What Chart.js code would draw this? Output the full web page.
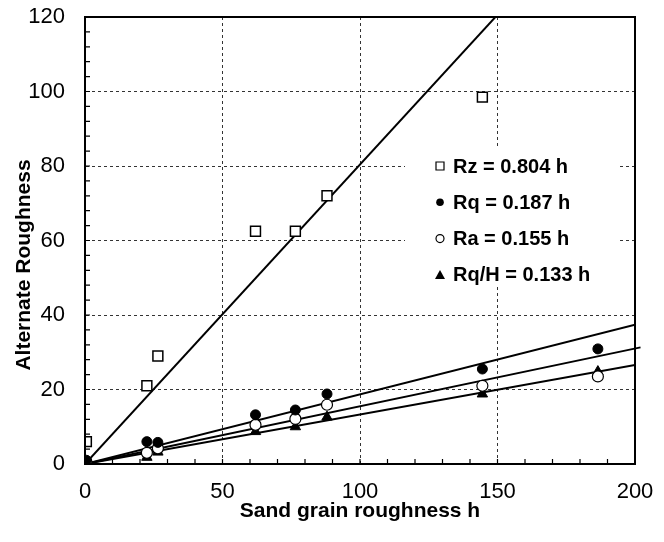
<!DOCTYPE html>
<html>
<head>
<meta charset="utf-8">
<script src="https://cdn.jsdelivr.net/npm/chart.js@4/dist/chart.umd.min.js"></script>
<style>
  html, body { margin: 0; padding: 0; background: #fff; }
</style>
</head>
<body>
<canvas id="chart" width="664" height="542"></canvas>
<script>
// data
const sandH = [0.5, 22.5, 26.5, 62, 76.5, 88, 144.5, 186.5];
const rzVals = [6, 21, 29, 62.5, 62.5, 72, 98.5, null];
const rqVals = [1, 6, 5.8, 13.2, 14.5, 18.8, 25.5, 30.9];
const raVals = [0.6, 3, 4.2, 10.5, 12.1, 15.9, 21, 23.5];
const rqhVals = [0.3, 1.8, 3.2, 8.7, 10, 12.6, 18.8, 24.8];

const seriesNames = ["Rz", "Rq", "Ra", "Rq/H"];
const slopes = [0.804, 0.187, 0.155, 0.133];
const lineEnds = [200, 200, 202, 200];

const xTicks = [0, 50, 100, 150, 200];
const yTicks = [0, 20, 40, 60, 80, 100, 120];

const FONT = "'Liberation Sans', Arial, sans-serif";

const pts = vals => sandH.map((h, i) => ({ x: h, y: vals[i] })).filter(p => p.y !== null);

const markerStyles = [
    { pointStyle: "rect", pointRadius: 7, backgroundColor: "#fff", borderColor: "#000", borderWidth: 1.5 },
    { pointStyle: "circle", pointRadius: 5, backgroundColor: "#000", borderColor: "#000", borderWidth: 1 },
    { pointStyle: "circle", pointRadius: 5.5, backgroundColor: "#fff", borderColor: "#000", borderWidth: 1.2 },
    { pointStyle: "triangle", pointRadius: 6, backgroundColor: "#000", borderColor: "#000", borderWidth: 1 }
];

const allVals = [rzVals, rqVals, raVals, rqhVals];

const datasets = [];
allVals.forEach((vals, i) => {
    datasets.push(Object.assign({
        label: seriesNames[i] + " = " + slopes[i].toFixed(3) + " h",
        data: pts(vals),
        order: 1
    }, markerStyles[i]));
});
// fitted lines through the origin
slopes.forEach((s, i) => {
    datasets.push({
        label: "fit " + seriesNames[i],
        data: [{ x: 0, y: 0 }, { x: lineEnds[i], y: s * lineEnds[i] }],
        showLine: true,
        pointRadius: 0,
        borderColor: "#000",
        borderWidth: 2,
        clip: lineEnds[i] > 200 ? false : undefined,
        order: 2
    });
});

// frame, minor ticks, axis titles and the in-plot legend
const extras = {
    id: "extras",
    afterDraw(chart) {
        const { ctx, chartArea: a, scales: { x, y } } = chart;
        ctx.save();
        ctx.strokeStyle = "#000";
        ctx.lineWidth = 2;
        ctx.strokeRect(a.left, a.top, a.right - a.left, a.bottom - a.top);

        ctx.lineWidth = 1.2;
        ctx.beginPath();
        for (let v = 10; v < 200; v += 10) {
            const px = x.getPixelForValue(v);
            ctx.moveTo(px, a.bottom);
            ctx.lineTo(px, a.bottom - 5);
        }
        for (let v = 4; v < 120; v += 4) {
            const py = y.getPixelForValue(v);
            ctx.moveTo(a.left, py);
            ctx.lineTo(a.left + 5, py);
        }
        ctx.stroke();

        ctx.fillStyle = "#000";
        ctx.font = "bold 21px " + FONT;
        ctx.textAlign = "center";
        ctx.textBaseline = "middle";
        ctx.fillText("Sand grain roughness h", (a.left + a.right) / 2, 511);
        ctx.save();
        ctx.translate(24, 265);
        ctx.rotate(-Math.PI / 2);
        ctx.fillText("Alternate Roughness", 0, 0);
        ctx.restore();

        // legend (white box hides the grid behind it)
        const lx = a.left + 355;
        ctx.fillStyle = "#fff";
        ctx.fillRect(lx - 35, a.top + 130, 212, 140);
        ctx.font = "bold 20px " + FONT;
        ctx.textAlign = "left";
        for (let i = 0; i < 4; i++) {
            const ly = a.top + 149 + i * 36.3;
            ctx.lineWidth = 1.2;
            ctx.beginPath();
            if (i === 0) {
                ctx.fillStyle = "#fff";
                ctx.rect(lx - 4, ly - 4, 8, 8);
                ctx.fill(); ctx.stroke();
            } else if (i === 1) {
                ctx.fillStyle = "#000";
                ctx.arc(lx, ly, 3.8, 0, Math.PI * 2);
                ctx.fill();
            } else if (i === 2) {
                ctx.fillStyle = "#fff";
                ctx.arc(lx, ly, 4, 0, Math.PI * 2);
                ctx.fill(); ctx.stroke();
            } else {
                ctx.fillStyle = "#000";
                ctx.moveTo(lx, ly - 5);
                ctx.lineTo(lx + 5, ly + 4);
                ctx.lineTo(lx - 5, ly + 4);
                ctx.closePath();
                ctx.fill();
            }
            ctx.fillStyle = "#000";
            ctx.fillText(datasets[i].label, lx + 13, ly + 1);
        }
        ctx.restore();
    }
};

new Chart(document.getElementById("chart").getContext("2d"), {
    type: "scatter",
    data: { datasets: datasets },
    options: {
        responsive: false,
        animation: false,
        devicePixelRatio: 1,
        layout: { padding: { top: 17, right: 29, left: 0, bottom: 0 } },
        plugins: { legend: { display: false }, tooltip: { enabled: false } },
        scales: {
            x: {
                type: "linear",
                min: 0, max: 200,
                afterBuildTicks: s => { s.ticks = xTicks.map(v => ({ value: v })); },
                afterFit: s => { s.height = 78; s.paddingLeft = 0; s.paddingRight = 0; },
                ticks: { color: "#000", font: { family: FONT, size: 22 }, padding: 15 },
                grid: { color: "#333", lineWidth: 1, drawTicks: false },
                border: { color: "#000", width: 2, dash: [3, 3] }
            },
            y: {
                type: "linear",
                min: 0, max: 120,
                afterBuildTicks: s => { s.ticks = yTicks.map(v => ({ value: v })); },
                afterFit: s => { s.width = 85; s.paddingTop = 0; s.paddingBottom = 0; },
                ticks: { color: "#000", font: { family: FONT, size: 22 }, padding: 20 },
                grid: { color: "#333", lineWidth: 1, drawTicks: false },
                border: { color: "#000", width: 2, dash: [3, 3] }
            }
        }
    },
    plugins: [extras]
});
</script>
</body>
</html>
